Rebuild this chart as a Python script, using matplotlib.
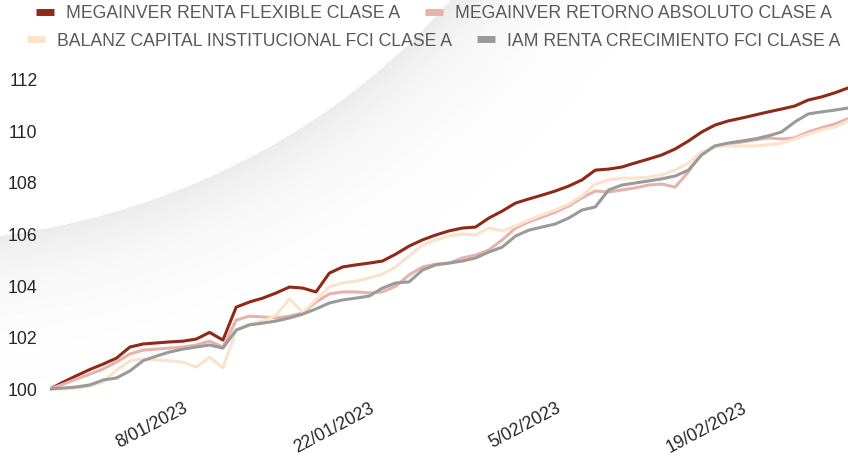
import numpy as np
import pandas as pd
import matplotlib
matplotlib.use('Agg')
import matplotlib.pyplot as plt
from matplotlib.lines import Line2D

# Data (daily index values, base 100)

dates = pd.date_range('2022-12-29', '2023-02-27', freq='D')

names = ['MEGAINVER RENTA FLEXIBLE CLASE A',
         'MEGAINVER RETORNO ABSOLUTO CLASE A',
         'BALANZ CAPITAL INSTITUCIONAL FCI CLASE A',
         'IAM RENTA CRECIMIENTO FCI CLASE A']

renta_flexible = [100.0, 100.27, 100.52, 100.76, 100.97, 101.2, 101.63, 101.75, 101.79, 101.83, 101.86,
                  101.94, 102.2, 101.9, 103.18, 103.38, 103.53, 103.73, 103.96, 103.92, 103.77,
                  104.5, 104.74, 104.82, 104.89, 104.97, 105.24, 105.55, 105.79, 105.98, 106.14,
                  106.25, 106.29, 106.64, 106.91, 107.22, 107.38, 107.53, 107.69, 107.88, 108.12,
                  108.5, 108.54, 108.62, 108.78, 108.93, 109.09, 109.32, 109.63, 109.98, 110.25,
                  110.41, 110.52, 110.64, 110.76, 110.87, 110.99, 111.22, 111.34, 111.5, 111.69]

retorno_absoluto = [100.0, 100.19, 100.39, 100.58, 100.78, 101.05, 101.36, 101.51, 101.55, 101.59, 101.63,
                    101.71, 101.86, 101.63, 102.68, 102.83, 102.8, 102.76, 102.83, 102.95, 103.38,
                    103.69, 103.77, 103.77, 103.73, 103.77, 104.0, 104.43, 104.74, 104.85, 104.89,
                    105.09, 105.2, 105.4, 105.79, 106.25, 106.49, 106.68, 106.87, 107.11, 107.42,
                    107.69, 107.65, 107.73, 107.81, 107.92, 107.96, 107.84, 108.43, 109.17, 109.44,
                    109.51, 109.59, 109.67, 109.75, 109.71, 109.75, 109.98, 110.14, 110.29, 110.49]

balanz = [100.0, 100.0, 100.04, 100.12, 100.27, 100.74, 101.09, 101.17, 101.13, 101.09, 101.05,
          100.85, 101.24, 100.82, 102.29, 102.52, 102.64, 102.87, 103.5, 102.99, 103.46,
          103.96, 104.12, 104.19, 104.31, 104.47, 104.74, 105.17, 105.59, 105.79, 105.94,
          106.02, 105.98, 106.25, 106.14, 106.33, 106.56, 106.76, 106.95, 107.18, 107.5,
          107.96, 108.12, 108.19, 108.19, 108.23, 108.31, 108.5, 108.78, 109.2, 109.4,
          109.44, 109.44, 109.44, 109.48, 109.55, 109.71, 109.9, 110.06, 110.17, 110.41]

iam_crecimiento = [100.0, 100.04, 100.08, 100.16, 100.35, 100.43, 100.7, 101.1, 101.28, 101.44, 101.55,
                   101.63, 101.71, 101.59, 102.29, 102.49, 102.56, 102.64, 102.76, 102.91, 103.11,
                   103.34, 103.46, 103.53, 103.61, 103.92, 104.12, 104.16, 104.62, 104.82, 104.89,
                   104.97, 105.09, 105.32, 105.51, 105.94, 106.17, 106.29, 106.41, 106.64, 106.95,
                   107.07, 107.73, 107.92, 108.0, 108.08, 108.16, 108.27, 108.5, 109.09, 109.44,
                   109.55, 109.63, 109.71, 109.83, 109.98, 110.37, 110.68, 110.76, 110.83, 110.91]

tick_dates = pd.to_datetime(['2023-01-08', '2023-01-22', '2023-02-05', '2023-02-19'])
tick_labels = ['8/01/2023', '22/01/2023', '5/02/2023', '19/02/2023']
y_ticks = [100, 102, 104, 106, 108, 110, 112]

colors = ['#8e2a17', '#e6b3ab', '#fbe3cb', '#9a9a9a']
series = [renta_flexible, retorno_absoluto, balanz, iam_crecimiento]

plt.rcParams['font.family'] = ['Liberation Sans', 'DejaVu Sans']

W, H = 848, 459
fig = plt.figure(figsize=(W / 100, H / 100), dpi=100)

## Background: white page with a soft grey curled edge top-left

xx, yy = np.meshgrid(np.arange(W), np.arange(H))
r = np.sqrt(((xx + 100) / 703.0) ** 2 + ((yy + 400) / 642.0) ** 2)
dist = (r - 1) * 650
shade = np.where(dist > 0, 1 - 0.08 * np.exp(-dist / 50.0), 1.0)
bg = fig.add_axes([0, 0, 1, 1], zorder=0)
bg.imshow(shade, cmap='gray', vmin=0, vmax=1, aspect='auto', interpolation='bilinear')
bg.axis('off')

## Lines

ax = fig.add_axes([50 / W, 0.1412, (W - 50) / W, 0.707], zorder=1)
ax.set_facecolor('none')

for vals, c in zip(series, colors):
    ax.plot(dates, vals, color=c, lw=2.2, solid_joinstyle='round')

ax.set_xlim(dates[0], dates[-1])
ax.set_ylim(99.8, 112.4)
ax.set_yticks(y_ticks)
ax.set_yticklabels([str(v) for v in y_ticks])
ax.set_xticks(tick_dates)
ax.set_xticklabels(tick_labels)
for s in ax.spines.values():
    s.set_visible(False)
ax.tick_params(length=0, labelsize=12.7, colors='#262626')
ax.tick_params(axis='y', pad=9)
ax.tick_params(axis='x', pad=4)
plt.setp(ax.get_xticklabels(), rotation=28, ha='right', rotation_mode='anchor')

## Legend, two centred rows

handles = [Line2D([], [], color=c, lw=5, solid_capstyle='butt') for c in colors]
rows = [(0, 14), (2, 41)]
for i, ypix in rows:
    fig.legend(handles[i:i + 2], names[i:i + 2], loc='center',
               bbox_to_anchor=(434 / W, 1 - ypix / H), ncol=2, frameon=False,
               fontsize=12.7, labelcolor='#595959', handlelength=1.0,
               handletextpad=0.7, columnspacing=1.4, borderpad=0, borderaxespad=0)

fig.savefig('out.png', dpi=100)
